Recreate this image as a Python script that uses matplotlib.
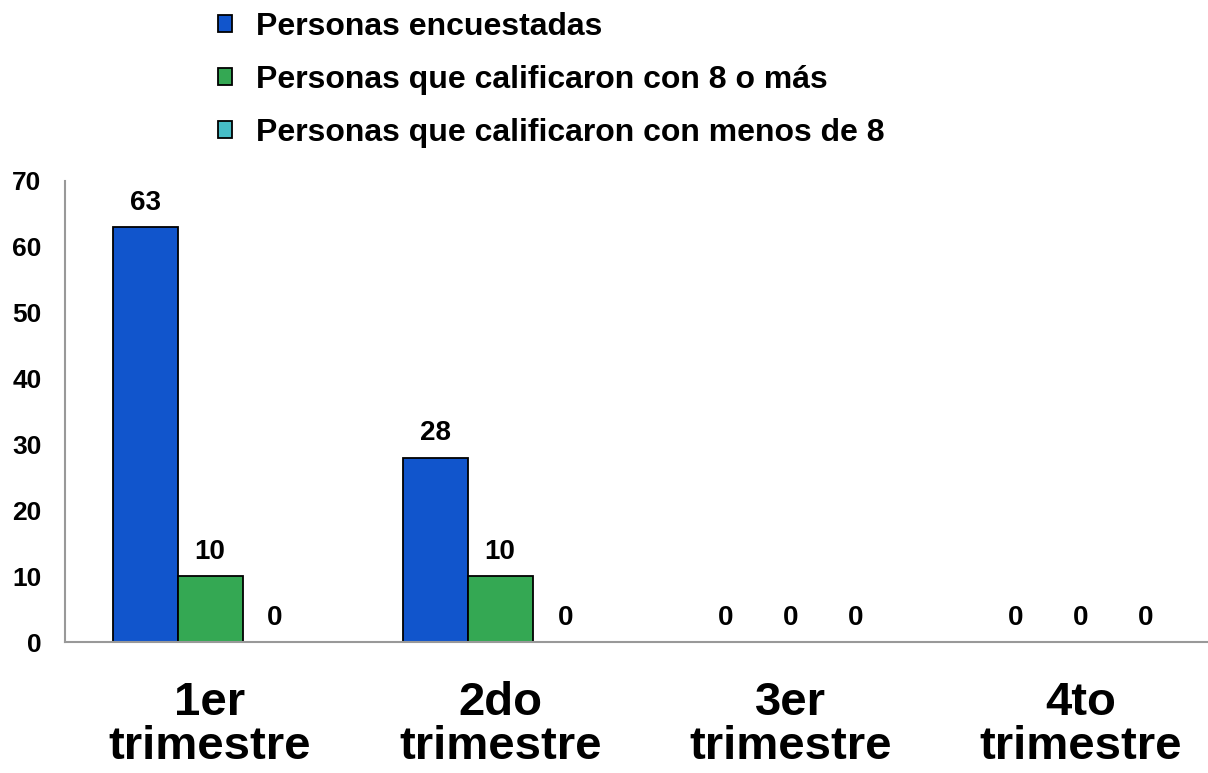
import matplotlib.pyplot as plt
import numpy as np
from matplotlib.patches import Patch

plt.rcParams['font.family'] = ['Liberation Sans', 'DejaVu Sans']
plt.rcParams['font.weight'] = 'bold'

trimestres = ['1er\ntrimestre', '2do\ntrimestre', '3er\ntrimestre', '4to\ntrimestre']
encuestadas = [63, 28, 0, 0]
ocho_o_mas = [10, 10, 0, 0]
menos_de_ocho = [0, 0, 0, 0]
series = ['Personas encuestadas', 'Personas que calificaron con 8 o más',
          'Personas que calificaron con menos de 8']
colores = ['#1155cc', '#34a853', '#46bdc6']

fig = plt.figure(figsize=(12.08, 7.73), dpi=100)
ax = fig.add_axes([65 / 1208, 1 - 642 / 773, (1208 - 65) / 1208, (642 - 181) / 773])

x = np.arange(len(trimestres))
w = 0.224
for i, (vals, col) in enumerate(zip([encuestadas, ocho_o_mas, menos_de_ocho], colores)):
    pos = x + (i - 1) * w
    ax.bar(pos, vals, w, color=col, edgecolor='black', linewidth=1.3)
    for p, v in zip(pos, vals):
        ax.annotate(str(v), (p, v), xytext=(0, 8), textcoords='offset points',
                    ha='center', va='bottom', fontsize=20, fontweight='bold')

ax.set_xlim(-0.5, 3.44)
ax.set_ylim(0, 70)
ax.set_yticks(range(0, 71, 10))
ax.set_xticks(x)
ax.set_xticklabels(trimestres, fontsize=34, fontweight='bold', linespacing=1.0)
ax.tick_params(axis='y', length=0, pad=17, labelsize=19)
ax.tick_params(axis='x', length=0, pad=28)
for s in ['top', 'right']:
    ax.spines[s].set_visible(False)
ax.spines['left'].set_color('#999999')
ax.spines['bottom'].set_color('#999999')
ax.spines['left'].set_linewidth(1.5)
ax.spines['bottom'].set_linewidth(1.5)

handles = [Patch(facecolor=c, edgecolor='black', linewidth=1.3) for c in colores]
fig.legend(handles, series, loc='upper left', bbox_to_anchor=(218 / 1208, 1 - 12 / 773),
           frameon=False, fontsize=23, borderpad=0, borderaxespad=0,
           handlelength=0.45, handleheight=0.45, handletextpad=0.75, labelspacing=0.72)

fig.savefig('out.png', dpi=100)
